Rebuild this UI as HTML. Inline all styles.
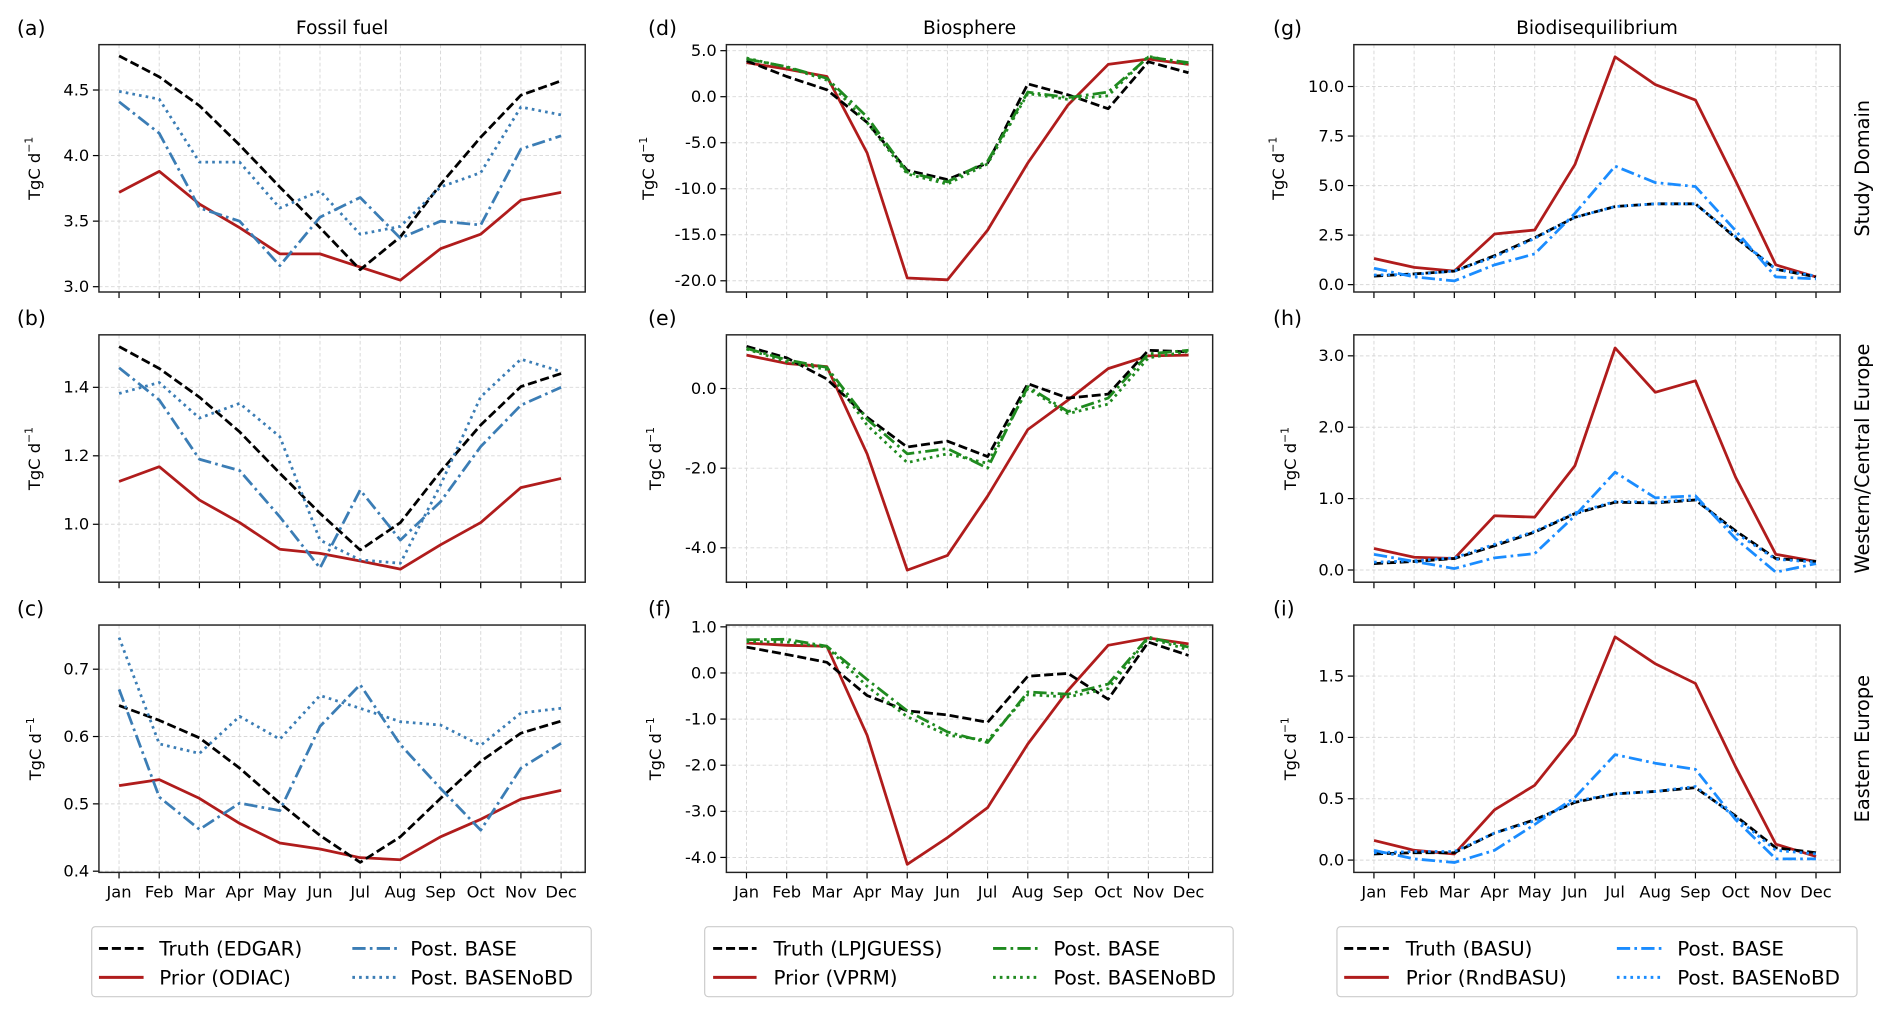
<!DOCTYPE html>
<html><head><meta charset="utf-8"><style>
html,body{margin:0;padding:0;background:#fff;}
svg{display:block;font-family:"DejaVu Sans","Liberation Sans",sans-serif;}
</style></head><body>
<svg id="chart" width="1892" height="1019" viewBox="0 0 1568 844.5" preserveAspectRatio="none" xmlns="http://www.w3.org/2000/svg"></svg>
<script>
const months = ["Jan","Feb","Mar","Apr","May","Jun","Jul","Aug","Sep","Oct","Nov","Dec"];
// (a) Fossil fuel, Study Domain
const aTruth = [4.76,4.60,4.38,4.08,3.76,3.45,3.13,3.38,3.78,4.14,4.46,4.57];
const aPrior = [3.72,3.88,3.63,3.45,3.25,3.25,3.15,3.05,3.29,3.40,3.66,3.72];
const aBase  = [4.41,4.17,3.60,3.50,3.16,3.53,3.68,3.37,3.50,3.47,4.05,4.15];
const aNoBD  = [4.49,4.43,3.95,3.95,3.60,3.73,3.40,3.46,3.76,3.87,4.37,4.31];
const aTicks = [3.0,3.5,4.0,4.5];
// (b) Fossil fuel, Western/Central Europe
const bTruth = [1.519,1.455,1.371,1.27,1.149,1.032,0.925,1.005,1.154,1.29,1.402,1.44];
const bPrior = [1.125,1.168,1.071,1.005,0.927,0.915,0.893,0.869,0.94,1.005,1.107,1.134];
const bBase  = [1.457,1.363,1.19,1.157,1.022,0.872,1.1,0.954,1.066,1.227,1.348,1.40];
const bNoBD  = [1.382,1.414,1.31,1.353,1.256,0.954,0.896,0.886,1.115,1.372,1.482,1.446];
const bTicks = [1.0,1.2,1.4];
// (c) Fossil fuel, Eastern Europe
const cTruth = [0.646,0.624,0.598,0.553,0.501,0.453,0.413,0.451,0.508,0.563,0.605,0.623];
const cPrior = [0.527,0.536,0.508,0.471,0.442,0.433,0.420,0.417,0.451,0.477,0.507,0.520];
const cBase  = [0.67,0.51,0.462,0.501,0.49,0.615,0.677,0.588,0.523,0.461,0.553,0.590];
const cNoBD  = [0.747,0.589,0.575,0.630,0.596,0.661,0.642,0.622,0.617,0.587,0.635,0.642];
const cTicks = [0.4,0.5,0.6,0.7];
// (d) Biosphere, Study Domain
const dTruth = [3.9,2.2,0.75,-2.8,-8.0,-9.0,-7.2,1.4,0.2,-1.3,3.8,2.6];
const dPrior = [3.7,3.0,2.2,-6.1,-19.7,-19.9,-14.5,-7.2,-0.9,3.5,4.1,3.5];
const dBase  = [4.1,3.25,2.0,-2.2,-8.2,-9.25,-7.0,0.5,-0.1,0.5,4.3,3.7];
const dNoBD  = [4.2,3.2,1.8,-2.8,-8.4,-9.5,-7.3,0.35,-0.3,0.1,4.4,3.5];
const dTicks = [-20,-15,-10,-5,0,5];
// (e) Biosphere, Western/Central Europe
const eTruth = [1.06,0.77,0.24,-0.72,-1.47,-1.32,-1.71,0.12,-0.24,-0.14,0.96,0.92];
const ePrior = [0.84,0.63,0.55,-1.64,-4.56,-4.19,-2.70,-1.03,-0.29,0.50,0.82,0.84];
const eBase  = [1.01,0.72,0.53,-0.77,-1.64,-1.51,-2.0,0.05,-0.58,-0.24,0.87,0.96];
const eNoBD  = [0.99,0.67,0.48,-0.92,-1.86,-1.64,-1.88,0.0,-0.63,-0.39,0.77,0.93];
const eTicks = [-4,-2,0];
// (f) Biosphere, Eastern Europe
const fTruth = [0.56,0.40,0.23,-0.49,-0.82,-0.91,-1.07,-0.07,-0.01,-0.57,0.67,0.38];
const fPrior = [0.65,0.60,0.58,-1.35,-4.15,-3.57,-2.92,-1.54,-0.38,0.60,0.76,0.63];
const fBase  = [0.72,0.73,0.58,-0.14,-0.82,-1.28,-1.51,-0.41,-0.46,-0.24,0.78,0.56];
const fNoBD  = [0.68,0.67,0.56,-0.29,-0.95,-1.35,-1.46,-0.47,-0.52,-0.34,0.76,0.50];
const fTicks = [-4,-3,-2,-1,0,1];
// (g) Biodisequilibrium, Study Domain
const gTruth = [0.43,0.54,0.68,1.46,2.37,3.4,3.94,4.08,4.08,2.37,0.78,0.39];
const gPrior = [1.32,0.87,0.68,2.56,2.76,6.06,11.5,10.1,9.32,5.24,1.0,0.39];
const gBase  = [0.83,0.39,0.19,1.0,1.55,3.6,5.98,5.15,4.95,2.72,0.39,0.29];
const gNoBD  = [0.49,0.52,0.68,1.4,2.33,3.4,3.94,4.08,4.08,2.43,0.78,0.43];
const gTicks = [0,2.5,5,7.5,10];
// (h) Biodisequilibrium, Western/Central Europe
const hTruth = [0.09,0.12,0.16,0.34,0.53,0.79,0.95,0.94,0.98,0.55,0.16,0.12];
const hPrior = [0.30,0.18,0.16,0.76,0.74,1.46,3.11,2.49,2.65,1.30,0.22,0.12];
const hBase  = [0.22,0.12,0.02,0.17,0.23,0.76,1.37,1.01,1.04,0.44,-0.03,0.09];
const hNoBD  = [0.11,0.13,0.17,0.36,0.54,0.8,0.96,0.95,0.99,0.52,0.15,0.11];
const hTicks = [0,1,2,3];
// (i) Biodisequilibrium, Eastern Europe
const iTruth = [0.05,0.06,0.06,0.22,0.33,0.47,0.54,0.56,0.59,0.36,0.10,0.06];
const iPrior = [0.16,0.08,0.05,0.41,0.61,1.02,1.82,1.60,1.44,0.76,0.13,0.03];
const iBase  = [0.08,0.01,-0.02,0.08,0.29,0.51,0.86,0.79,0.74,0.33,0.01,0.01];
const iNoBD  = [0.06,0.07,0.07,0.22,0.32,0.48,0.54,0.56,0.60,0.35,0.08,0.05];
const iTicks = [0,0.5,1.0,1.5];

const NS = "http://www.w3.org/2000/svg";
const svg = document.getElementById("chart");
function mk(tag, attrs, parent){ const e=document.createElementNS(NS,tag); for(const k in attrs) e.setAttribute(k,attrs[k]); (parent||svg).appendChild(e); return e; }

const colLeft=[82,602,1122], rowTop=[37,277.5,518], W=403, H=205;
const postColor=["#3b7db5","#1f8a1f","#1a8cff"];
const RED="#b01c1c";
const DASH={truth:"7.5,3.2",base:"11,3.5,2.2,3.5",nobd:"2.2,3.4",prior:""};

const panels=[
 {id:"a",c:0,r:0,s:[aTruth,aPrior,aBase,aNoBD],ticks:aTicks,cal:[3.0,200.6,4.5,37.6],fmt:1,yl:-49},
 {id:"b",c:0,r:1,s:[bTruth,bPrior,bBase,bNoBD],ticks:bTicks,cal:[1.0,157,1.4,43.5],fmt:1,yl:-49},
 {id:"c",c:0,r:2,s:[cTruth,cPrior,cBase,cNoBD],ticks:cTicks,cal:[0.4,204,0.7,36.6],fmt:1,yl:-48},
 {id:"d",c:1,r:0,s:[dTruth,dPrior,dBase,dNoBD],ticks:dTicks,cal:[-20,195.7,5,5],fmt:1,yl:-60},
 {id:"e",c:1,r:1,s:[eTruth,ePrior,eBase,eNoBD],ticks:eTicks,cal:[-4,176.5,0,44.5],fmt:1,yl:-54},
 {id:"f",c:1,r:2,s:[fTruth,fPrior,fBase,fNoBD],ticks:fTicks,cal:[-4,192.6,1,1.5],fmt:1,yl:-54},
 {id:"g",c:2,r:0,s:[gTruth,gPrior,gBase,gNoBD],ticks:gTicks,cal:[0,198.9,10,34.7],fmt:1,yl:-58},
 {id:"h",c:2,r:1,s:[hTruth,hPrior,hBase,hNoBD],ticks:hTicks,cal:[0,194.9,3,17.4],fmt:1,yl:-48},
 {id:"i",c:2,r:2,s:[iTruth,iPrior,iBase,iNoBD],ticks:iTicks,cal:[0,194.8,1.5,42.3],fmt:1,yl:-48}
];
const titles=["Fossil fuel","Biosphere","Biodisequilibrium"];
const rowLabels=["Study Domain","Western/Central Europe","Eastern Europe"];

function xPos(left,i){ return left + W*(0.5+i)/12.1; }

panels.forEach(p=>{
  const L=colLeft[p.c], T=rowTop[p.r];
  const g=mk("g",{});
  
  
  const [v1,r1,v2,r2]=p.cal;
  const yPos=v=>T + r1 + (v-v1)*(r2-r1)/(v2-v1);
  months.forEach((m,i)=>{
    const x=xPos(L,i);
    const gl=mk("line",{x1:x,x2:x,y1:T,y2:T+H,stroke:"#d8d8d8","stroke-width":0.8,"stroke-dasharray":"3,2"},g);
    
    
    const tk=mk("line",{x1:x,x2:x,y1:T+H,y2:T+H+5,stroke:"#000","stroke-width":1},g);
    
    
    if(p.r===2){
      const t=mk("text",{x:x,y:T+H+21,"text-anchor":"middle","font-size":13.5,fill:"#000"},g);
      t.textContent=m;
      
      
    }
  });
  p.ticks.forEach(v=>{
    const y=yPos(v);
    const gl=mk("line",{x1:L,x2:L+W,y1:y,y2:y,stroke:"#d8d8d8","stroke-width":0.8,"stroke-dasharray":"3,2"},g);
    
    
    const tk=mk("line",{x1:L-5,x2:L,y1:y,y2:y,stroke:"#000","stroke-width":1},g);
    
    
    const t=mk("text",{x:L-8,y:y+4.5,"text-anchor":"end","font-size":13.5,fill:"#000"},g);
    t.textContent=v.toFixed(p.fmt);
    
    
  });
  const cfg=[["truth","#000",DASH.truth],["prior",RED,""],["base",postColor[p.c],DASH.base],["nobd",postColor[p.c],DASH.nobd]];
  const order=[1,0,2,3];
  order.forEach(k=>{
    const data=p.s[k];
    const d=data.map((v,i)=>(i?"L":"M")+xPos(L,i).toFixed(1)+","+yPos(v).toFixed(1)).join(" ");
    const path=mk("path",{d:d,fill:"none",stroke:cfg[k][1],"stroke-width":2.3,"stroke-linejoin":"round"},g);
    if(cfg[k][2]) path.setAttribute("stroke-dasharray",cfg[k][2]);
    
    
  });
  const fr=mk("rect",{x:L,y:T,width:W,height:H,fill:"none",stroke:"#222","stroke-width":1.2},g);
  
  
  const yl=mk("text",{x:0,y:0,"text-anchor":"middle","font-size":13.5,transform:"translate("+(L+p.yl)+","+(T+H/2)+") rotate(-90)"},g);
  yl.innerHTML='TgC d<tspan font-size="9" dy="-6">−1</tspan>';
  
  
  const pl=mk("text",{x:[14,537,1055][p.c],y:T-8,"font-size":17},g);
  pl.textContent="("+p.id+")";
  
  
});

titles.forEach((t,c)=>{
  const e=mk("text",{x:colLeft[c]+W/2,y:28,"text-anchor":"middle","font-size":15.5});
  e.textContent=t;
  
  
});
rowLabels.forEach((t,r)=>{
  const e=mk("text",{x:0,y:0,"text-anchor":"middle","font-size":16,transform:"translate(1549,"+(rowTop[r]+H/2)+") rotate(-90)"});
  e.textContent=t;
  
  
});

const legendNames=[["Truth (EDGAR)","Prior (ODIAC)"],["Truth (LPJGUESS)","Prior (VPRM)"],["Truth (BASU)","Prior (RndBASU)"]];
const legendBox=[[76,490,82,119,132,292,340],[584,1022,591,627,641,823,873],[1108,1539,1114,1151,1165,1340,1390]];
legendNames.forEach((nm,c)=>{
  const b=legendBox[c];
  const g=mk("g",{});
  
  
  mk("rect",{x:b[0],y:768,width:b[1]-b[0],height:58,rx:3,fill:"#fff",stroke:"#ccc","stroke-width":1},g);
  const items=[[nm[0],"#000",DASH.truth,b[2],b[3],b[4],786],[nm[1],RED,"",b[2],b[3],b[4],810],
               ["Post. BASE",postColor[c],DASH.base,b[5],b[5]+37,b[6],786],["Post. BASENoBD",postColor[c],DASH.nobd,b[5],b[5]+37,b[6],810]];
  items.forEach(it=>{
    const ln=mk("line",{x1:it[3],x2:it[4],y1:it[6],y2:it[6],stroke:it[1],"stroke-width":2.4},g);
    if(it[2]) ln.setAttribute("stroke-dasharray",it[2]);
    
    
    const t=mk("text",{x:it[5],y:it[6]+6,"font-size":16.5},g);
    t.textContent=it[0];
    
    
  });
});
</script>
</body></html>
